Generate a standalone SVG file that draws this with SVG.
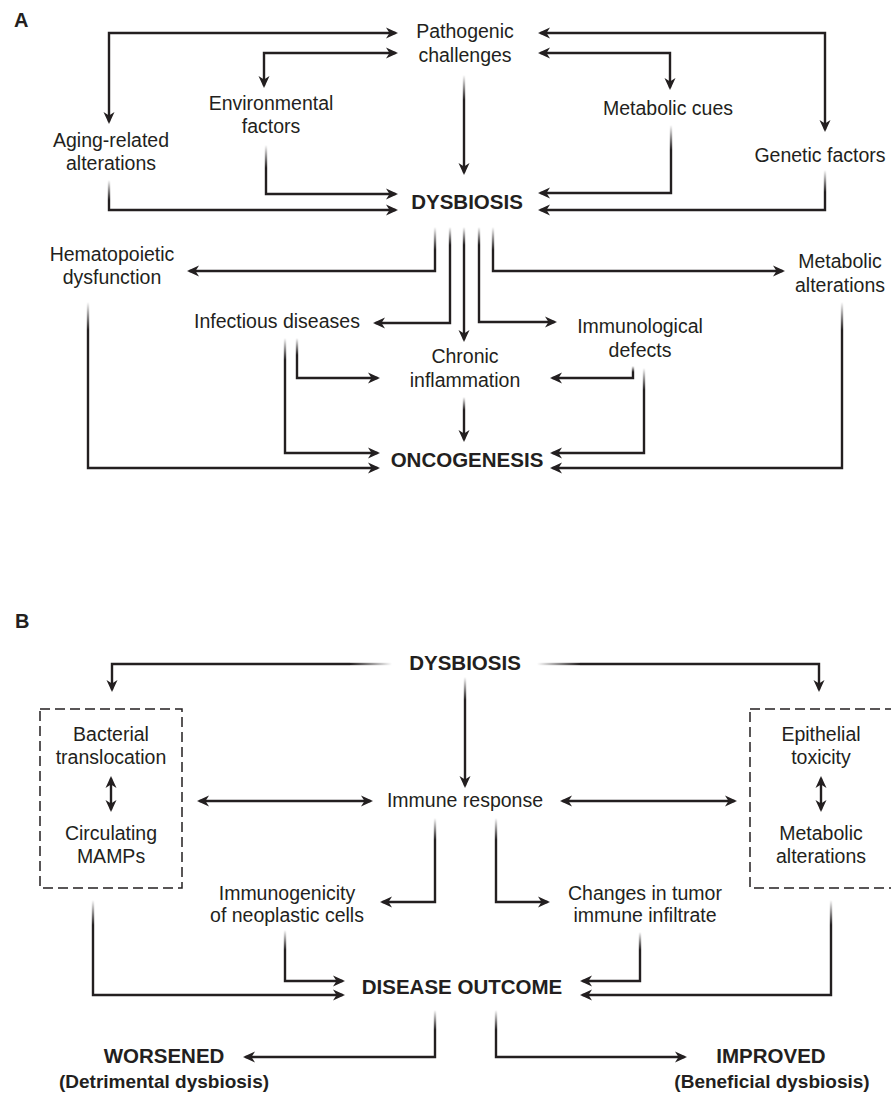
<svg xmlns="http://www.w3.org/2000/svg" width="891" height="1098" viewBox="0 0 891 1098">
<style>
text{font-family:"Liberation Sans",Arial,sans-serif;fill:#231f20;text-anchor:middle}
.t{font-size:19.5px}
.b{font-size:20.5px;font-weight:bold}
.s{font-size:19px;font-weight:bold}
.p{font-size:20px;font-weight:bold;text-anchor:start}
.c path{fill:none;stroke:#231f20;stroke-width:2.4;marker-end:url(#ah)}
.c path.d{marker-start:url(#ah)}
.box{fill:none;stroke:#231f20;stroke-width:1.5;stroke-dasharray:10 5}
</style>
<defs>
<marker id="ah" viewBox="0 0 12 12" refX="9.5" refY="6" markerWidth="12" markerHeight="12" markerUnits="userSpaceOnUse" orient="auto-start-reverse">
<path d="M0,0.5 L12,6 L0,11.5 L3.5,6 z" fill="#231f20"/>
</marker>
<linearGradient id="fv" x1="0" y1="0" x2="0" y2="1"><stop offset="0" stop-color="#231f20" stop-opacity="0"/><stop offset="1" stop-color="#231f20" stop-opacity="1"/></linearGradient>
<linearGradient id="fl" x1="1" y1="0" x2="0" y2="0"><stop offset="0" stop-color="#231f20" stop-opacity="0"/><stop offset="1" stop-color="#231f20" stop-opacity="1"/></linearGradient>
<linearGradient id="fr" x1="0" y1="0" x2="1" y2="0"><stop offset="0" stop-color="#231f20" stop-opacity="0"/><stop offset="1" stop-color="#231f20" stop-opacity="1"/></linearGradient>
</defs>
<rect width="891" height="1098" fill="#fff"/>

<text class="p" x="14" y="27">A</text>
<text class="p" x="15" y="628">B</text>

<g id="connectors" class="c">
<path class="d" d="M109,121.5 V33 H395.5"/>
<path class="d" d="M264,85.5 V53 H395.5"/>
<path class="d" d="M540.5,33 H825 V129.5"/>
<path class="d" d="M540.5,53 H670 V87.5"/>
<path d="M464,100 V172.5"/>
<path d="M109,200 V210 H395.5"/>
<path d="M266,168 V194 H395.5"/>
<path d="M671,150 V193 H540.5"/>
<path d="M825,192 V210 H540.5"/>
<path d="M435,250 V271 H189.5"/>
<path d="M450,245 V323 H375.5"/>
<path d="M464,245 V339.5"/>
<path d="M479,245 V322 H554.5"/>
<path d="M493,250 V271 H782.5"/>
<path d="M88,330 V468 H377.5"/>
<path d="M285,360 V453 H377.5"/>
<path d="M297,355 V378 H377.5"/>
<path d="M633,372 V378 H552.5"/>
<path d="M644,390 V453 H552.5"/>
<path d="M842,330 V468 H552.5"/>
<path d="M464,410 V439.5"/>
<g fill="url(#fv)">
<rect x="462.8" y="75" width="2.4" height="25"/>
<rect x="107.8" y="180" width="2.4" height="20"/>
<rect x="264.8" y="145" width="2.4" height="23"/>
<rect x="669.8" y="125" width="2.4" height="25"/>
<rect x="823.8" y="170" width="2.4" height="22"/>
<rect x="433.8" y="227" width="2.4" height="23"/>
<rect x="448.8" y="227" width="2.4" height="18"/>
<rect x="462.8" y="227" width="2.4" height="18"/>
<rect x="477.8" y="227" width="2.4" height="18"/>
<rect x="491.8" y="227" width="2.4" height="23"/>
<rect x="86.8" y="302" width="2.4" height="28"/>
<rect x="283.8" y="338" width="2.4" height="22"/>
<rect x="295.8" y="338" width="2.4" height="17"/>
<rect x="631.8" y="366" width="2.4" height="6"/>
<rect x="642.8" y="368" width="2.4" height="22"/>
<rect x="840.8" y="302" width="2.4" height="28"/>
<rect x="462.8" y="397" width="2.4" height="13"/>
</g>

<path d="M350,664 H112 V689.5"/>
<path d="M580,664 H819 V689.5"/>
<path d="M465,700 V785.5"/>
<path class="d" d="M111,778.5 V809.5"/>
<path class="d" d="M199.5,801 H370.5"/>
<path class="d" d="M562.5,801 H734.5"/>
<path class="d" d="M821,778.5 V809.5"/>
<path d="M435,840 V902 H382.5"/>
<path d="M496,840 V902 H547.5"/>
<path d="M285,950 V981 H342.5"/>
<path d="M93,925 V995 H342.5"/>
<path d="M640,950 V981 H582.5"/>
<path d="M831,925 V995 H582.5"/>
<path d="M435,1030 V1057 H245.5"/>
<path d="M496,1030 V1057 H684.5"/>
<rect x="350" y="662.8" width="42" height="2.4" fill="url(#fl)"/>
<rect x="537" y="662.8" width="43" height="2.4" fill="url(#fr)"/>
<g fill="url(#fv)">
<rect x="463.8" y="677" width="2.4" height="23"/>
<rect x="433.8" y="818" width="2.4" height="22"/>
<rect x="494.8" y="818" width="2.4" height="22"/>
<rect x="283.8" y="930" width="2.4" height="20"/>
<rect x="91.8" y="900" width="2.4" height="25"/>
<rect x="638.8" y="932" width="2.4" height="18"/>
<rect x="829.8" y="900" width="2.4" height="25"/>
<rect x="433.8" y="1010" width="2.4" height="20"/>
<rect x="494.8" y="1010" width="2.4" height="20"/>
</g>
</g>

<g id="pathogenic"><text class="t" x="465" y="38">Pathogenic</text><text class="t" x="465" y="62">challenges</text></g>
<g id="environmental"><text class="t" x="271" y="110">Environmental</text><text class="t" x="271" y="133">factors</text></g>
<g id="aging"><text class="t" x="111" y="147">Aging-related</text><text class="t" x="111" y="170">alterations</text></g>
<g id="metabolic-cues"><text class="t" x="668" y="115">Metabolic cues</text></g>
<g id="genetic"><text class="t" x="820" y="162">Genetic factors</text></g>
<g id="dysbiosis-a"><text class="b" x="467" y="209">DYSBIOSIS</text></g>
<g id="hematopoietic"><text class="t" x="112" y="261">Hematopoietic</text><text class="t" x="112" y="284">dysfunction</text></g>
<g id="infectious"><text class="t" x="277" y="328">Infectious diseases</text></g>
<g id="metabolic-alt-a"><text class="t" x="840" y="268">Metabolic</text><text class="t" x="840" y="292">alterations</text></g>
<g id="chronic"><text class="t" x="465" y="363">Chronic</text><text class="t" x="465" y="387">inflammation</text></g>
<g id="immunological"><text class="t" x="640" y="333">Immunological</text><text class="t" x="640" y="357">defects</text></g>
<g id="oncogenesis"><text class="b" x="467" y="467">ONCOGENESIS</text></g>

<g id="dysbiosis-b"><text class="b" x="465" y="670">DYSBIOSIS</text></g>
<g id="bacterial-box">
<rect class="box" x="40" y="709" width="142" height="179"/>
<text class="t" x="111" y="741">Bacterial</text><text class="t" x="111" y="764">translocation</text>
<text class="t" x="111" y="840">Circulating</text><text class="t" x="111" y="863">MAMPs</text>
</g>
<g id="epithelial-box">
<rect class="box" x="750" y="709" width="150" height="179"/>
<text class="t" x="821" y="741">Epithelial</text><text class="t" x="821" y="764">toxicity</text>
<text class="t" x="821" y="840">Metabolic</text><text class="t" x="821" y="863">alterations</text>
</g>
<g id="immune-response"><text class="t" x="465" y="807">Immune response</text></g>
<g id="immunogenicity"><text class="t" x="287" y="900">Immunogenicity</text><text class="t" x="287" y="922">of neoplastic cells</text></g>
<g id="changes"><text class="t" x="645" y="900">Changes in tumor</text><text class="t" x="645" y="922">immune infiltrate</text></g>
<g id="disease-outcome"><text class="b" x="462" y="994">DISEASE OUTCOME</text></g>
<g id="worsened"><text class="b" x="164" y="1063">WORSENED</text><text class="s" x="164" y="1088">(Detrimental dysbiosis)</text></g>
<g id="improved"><text class="b" x="771" y="1063">IMPROVED</text><text class="s" x="772" y="1088">(Beneficial dysbiosis)</text></g>
</svg>
